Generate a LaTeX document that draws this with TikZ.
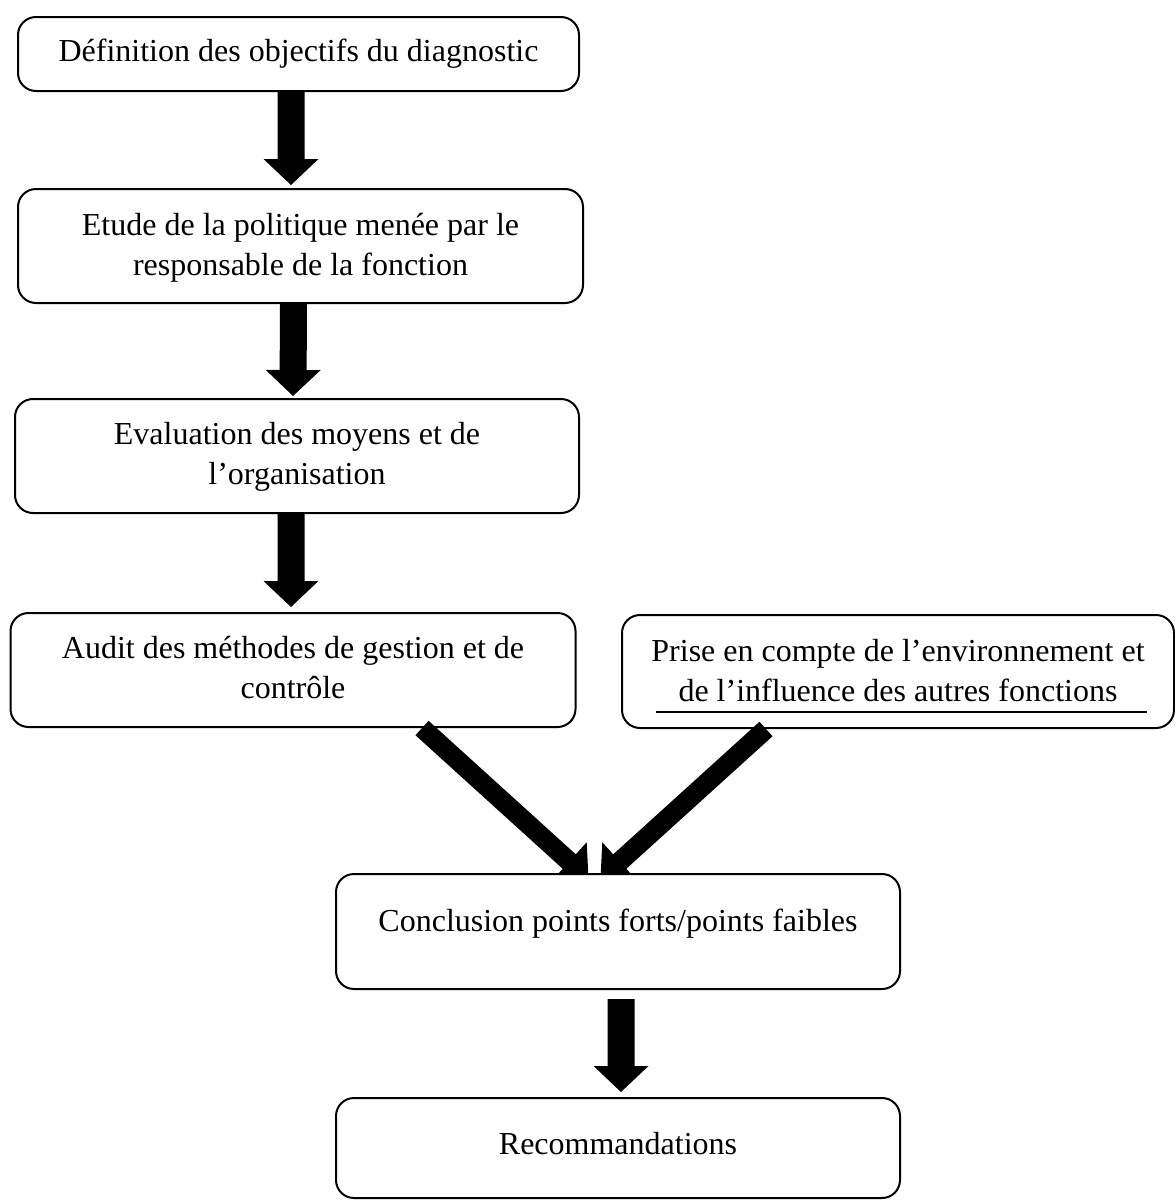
\documentclass[tikz,border=0pt]{standalone}
\usepackage{fontspec}
\setmainfont{Liberation Serif}
\usetikzlibrary{calc}
\pgfdeclarelayer{arrowlayer}
\pgfdeclarelayer{toplayer}
\pgfsetlayers{main,arrowlayer,toplayer}
% #1 start, #2 tip, #3 shaft half-width, #4 head half-width, #5 head length
\newcommand\blockarrow[5]{%
  \coordinate (ba@b) at ($(#2)!#5!(#1)$);
  \fill[black] ($(#1)!#3!90:(#2)$) -- ($(ba@b)!#3!-90:(#1)$) -- ($(ba@b)!#4!-90:(#1)$)
    -- (#2) -- ($(ba@b)!#4!90:(#1)$) -- ($(ba@b)!#3!90:(#1)$) -- ($(#1)!#3!-90:(#2)$) -- cycle;}
\tikzset{
  box/.style={draw, line width=2pt, rounded corners=18pt, fill=white, inner sep=0pt,
    anchor=north, align=center, font=\fontsize{32pt}{40pt}\selectfont},
}
\begin{document}
\begin{tikzpicture}[x=1pt,y=-1pt]
\useasboundingbox (0,0) rectangle (1175,1202);
\node[box, minimum width=561pt, text height=44pt, text depth=30pt] (b1) at (298.5,16)
  {Définition des objectifs du diagnostic};
\node[box, minimum width=565pt, text height=86pt, text depth=28pt] (b2) at (300.5,188)
  {Etude de la politique menée par le\\responsable de la fonction};
\node[box, minimum width=564pt, text height=85pt, text depth=29pt] (b3) at (297,398)
  {Evaluation des moyens et de\\l’organisation};
\node[box, minimum width=565pt, text height=85pt, text depth=29pt] (b4) at (293,612)
  {Audit des méthodes de gestion et de\\contrôle};
\node[box, minimum width=552pt, text height=86pt, text depth=27pt] (b5) at (898,614)
  {Prise en compte de l’environnement et\\de l’influence des autres fonctions};
\draw[line width=1.8pt] ([xshift=35pt,yshift=17pt]b5.south west) -- ([xshift=-28pt,yshift=17pt]b5.south east);
\begin{pgfonlayer}{toplayer}
\node[box, minimum width=564pt, text height=57pt, text depth=58pt] (b6) at (618,873)
  {Conclusion points forts/points faibles};
\node[box, minimum width=564pt, text height=56pt, text depth=44pt] (b7) at (618,1097)
  {Recommandations};
\end{pgfonlayer}
\begin{pgfonlayer}{arrowlayer}
\coordinate (a1s) at ([xshift=-7.5pt]b1.south);
\coordinate (a1t) at ([xshift=-9.5pt,yshift=3pt]b2.north);
\coordinate (a2s) at ([xshift=-7pt]b2.south);
\coordinate (a2t) at ([xshift=-4pt,yshift=2pt]b3.north);
\coordinate (a3s) at ([xshift=-6pt]b3.south);
\coordinate (a3t) at ([xshift=-2pt,yshift=5pt]b4.north);
\coordinate (a4s) at ([xshift=129pt]b4.south);
\coordinate (a4t) at ([xshift=-29.5pt,yshift=-6pt]b6.north);
\coordinate (a5s) at ([xshift=-132pt]b5.south);
\coordinate (a5t) at ([xshift=-17.5pt,yshift=-6pt]b6.north);
\coordinate (a6s) at ([xshift=3pt,yshift=-9pt]b6.south);
\coordinate (a6t) at ([xshift=3pt,yshift=5pt]b7.north);
\blockarrow{a1s}{a1t}{13.5pt}{27.5pt}{26pt}
\blockarrow{a2s}{a2t}{13.5pt}{27.5pt}{26pt}
\blockarrow{a3s}{a3t}{13.5pt}{27.5pt}{26pt}
\blockarrow{a4s}{a4t}{9.75pt}{26pt}{26pt}
\blockarrow{a5s}{a5t}{9.75pt}{26pt}{26pt}
\blockarrow{a6s}{a6t}{13.5pt}{27.5pt}{26pt}
\end{pgfonlayer}
\end{tikzpicture}
\end{document}
